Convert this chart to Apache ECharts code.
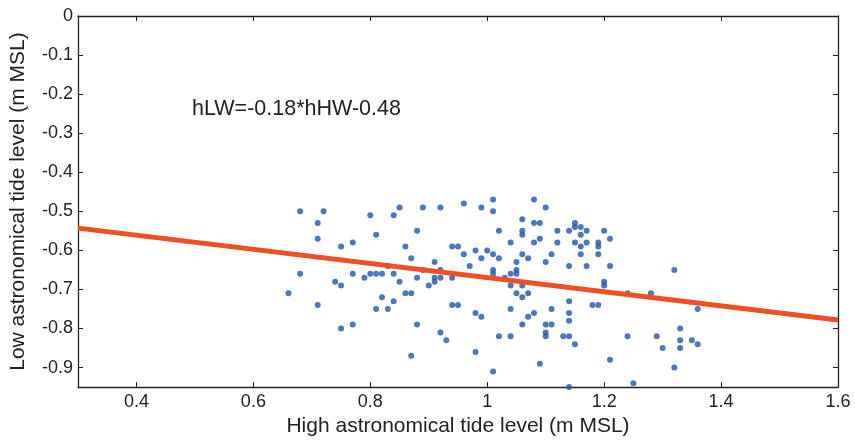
<!DOCTYPE html>
<html>
<head>
<meta charset="utf-8">
<script src="https://cdn.jsdelivr.net/npm/echarts@6/dist/echarts.min.js"></script>
<style>
html,body{margin:0;padding:0;background:#fff;}
#chart{width:855px;height:442px;}
</style>
</head>
<body>
<div id="chart"></div>
<script>
// High astronomical tide level (m MSL)
var hHW = [0.68,0.72,0.71,0.71,0.80,0.84,0.85,0.89,0.92,0.96,0.99,0.81,0.88,0.75,0.77,0.86,0.94,0.95,0.96,0.98,0.99,0.87,0.91,0.97,
  0.68,0.74,0.75,0.77,0.79,0.80,0.81,0.82,0.83,0.84,0.85,0.88,0.89,0.90,0.91,0.91,0.92,0.92,0.94,
  0.66,0.71,0.82,0.81,0.83,0.84,0.86,0.87,0.94,0.95,0.98,0.99,0.75,0.77,0.88,0.92,0.93,0.87,0.98,
  1.01,1.01,1.08,1.10,1.06,1.08,1.09,1.02,1.06,1.06,1.12,1.14,1.15,1.15,1.16,1.17,1.16,1.20,1.21,
  1.04,1.08,1.09,1.12,1.15,1.17,1.16,1.19,1.19,1.19,1.16,1.11,1.00,1.01,1.02,1.06,1.07,1.05,1.10,
  1.14,1.17,1.21,1.01,1.01,1.05,1.05,1.04,1.03,1.04,1.06,1.05,1.07,1.06,1.20,1.20,1.24,1.28,
  1.14,1.18,1.19,1.04,1.11,1.08,1.14,1.14,1.07,1.06,1.10,1.11,1.10,1.10,1.02,1.04,1.13,1.14,1.15,
  1.24,1.29,1.21,1.09,1.01,1.14,1.25,
  1.32,1.36,1.33,1.30,1.33,1.33,1.35,1.36,1.32];
// Low astronomical tide level (m MSL)
var hLW = [-0.50,-0.50,-0.53,-0.57,-0.51,-0.51,-0.49,-0.49,-0.49,-0.48,-0.49,-0.56,-0.55,-0.59,-0.58,-0.59,-0.59,-0.59,-0.61,-0.60,-0.62,-0.62,-0.63,-0.64,
  -0.66,-0.68,-0.69,-0.66,-0.67,-0.66,-0.66,-0.66,-0.64,-0.66,-0.68,-0.67,-0.65,-0.69,-0.67,-0.68,-0.65,-0.67,-0.67,
  -0.71,-0.74,-0.72,-0.75,-0.75,-0.73,-0.71,-0.71,-0.74,-0.74,-0.76,-0.77,-0.80,-0.79,-0.79,-0.81,-0.83,-0.87,-0.86,
  -0.47,-0.50,-0.47,-0.49,-0.52,-0.53,-0.53,-0.55,-0.55,-0.56,-0.55,-0.55,-0.53,-0.54,-0.54,-0.55,-0.56,-0.55,-0.57,
  -0.58,-0.58,-0.57,-0.58,-0.58,-0.58,-0.59,-0.58,-0.59,-0.61,-0.61,-0.61,-0.60,-0.61,-0.62,-0.61,-0.62,-0.63,-0.63,
  -0.64,-0.64,-0.64,-0.65,-0.66,-0.65,-0.66,-0.66,-0.67,-0.69,-0.69,-0.71,-0.71,-0.72,-0.68,-0.69,-0.71,-0.71,
  -0.73,-0.74,-0.74,-0.75,-0.75,-0.76,-0.76,-0.78,-0.77,-0.79,-0.79,-0.79,-0.81,-0.82,-0.82,-0.82,-0.82,-0.82,-0.84,
  -0.82,-0.82,-0.88,-0.89,-0.91,-0.95,-0.94,
  -0.65,-0.75,-0.80,-0.85,-0.83,-0.85,-0.83,-0.84,-0.90];
// Regression line end points (as drawn)
var fitX = [0.3, 1.6];
var fitY = [-0.543, -0.778];
// Tick labels
var xTicks = [0.4, 0.6, 0.8, 1.0, 1.2, 1.4, 1.6];
var yTicks = [0, -0.1, -0.2, -0.3, -0.4, -0.5, -0.6, -0.7, -0.8, -0.9];
var equationText = 'hLW=-0.18*hHW-0.48';
var xName = 'High astronomical tide level (m MSL)';
var yName = 'Low astronomical tide level (m MSL)';

var pts = hHW.map(function(x, i){ return [x, hLW[i]]; });
var fit = fitX.map(function(x, i){ return [x, fitY[i]]; });

var FONT = '"Liberation Sans", Arial, Helvetica, sans-serif';
var AX = '#222';

function fmt(v){ return String(Math.round(v*10)/10); }

var chart = echarts.init(document.getElementById('chart'), null, {renderer:'canvas'});
chart.setOption({
  animation: false,
  backgroundColor: '#fff',
  grid: {left: 77, right: 17, top: 16, bottom: 54, containLabel: false},
  title: {
    text: equationText, left: 192, top: 98, padding: 0,
    textStyle: {fontFamily: FONT, fontSize: 21.5, fontWeight: 'normal', color: '#222'}
  },
  xAxis: [{
    type: 'value', min: 0.3, max: 1.6, position: 'bottom',
    name: xName, nameLocation: 'middle', nameGap: 26,
    nameTextStyle: {fontFamily: FONT, fontSize: 21, color: '#222'},
    axisLine: {show: true, onZero: false, lineStyle: {color: AX, width: 1.3}},
    axisTick: {show: true, inside: true, length: 5, customValues: xTicks, lineStyle: {color: AX}},
    axisLabel: {show: true, customValues: xTicks, margin: 6, fontFamily: FONT, fontSize: 18, color: '#222', formatter: fmt},
    splitLine: {show: false}
  }, {
    type: 'value', min: 0.3, max: 1.6, position: 'top',
    axisLine: {show: true, onZero: false, lineStyle: {color: AX, width: 1.3}},
    axisTick: {show: true, inside: true, length: 5, customValues: xTicks, lineStyle: {color: AX}},
    axisLabel: {show: false},
    splitLine: {show: false}
  }],
  yAxis: [{
    type: 'value', min: -0.95, max: 0, position: 'left',
    name: yName, nameLocation: 'middle', nameGap: 49, nameRotate: 90,
    nameTextStyle: {fontFamily: FONT, fontSize: 21, color: '#222'},
    axisLine: {show: true, onZero: false, lineStyle: {color: AX, width: 1.3}},
    axisTick: {show: true, inside: true, length: 5, customValues: yTicks, lineStyle: {color: AX}},
    axisLabel: {show: true, customValues: yTicks, margin: 5, fontFamily: FONT, fontSize: 18, color: '#222', formatter: fmt},
    splitLine: {show: false}
  }, {
    type: 'value', min: -0.95, max: 0, position: 'right',
    axisLine: {show: true, onZero: false, lineStyle: {color: AX, width: 1.3}},
    axisTick: {show: true, inside: true, length: 5, customValues: yTicks, lineStyle: {color: AX}},
    axisLabel: {show: false},
    splitLine: {show: false}
  }],
  series: [{
    type: 'scatter', xAxisIndex: 0, yAxisIndex: 0,
    data: pts, symbol: 'circle', symbolSize: 6,
    itemStyle: {color: '#2356a8'}, z: 2
  }, {
    type: 'line', xAxisIndex: 0, yAxisIndex: 0,
    data: fit, symbol: 'none',
    lineStyle: {color: '#f04e23', width: 5}, z: 3
  }]
});
</script>
</body>
</html>
